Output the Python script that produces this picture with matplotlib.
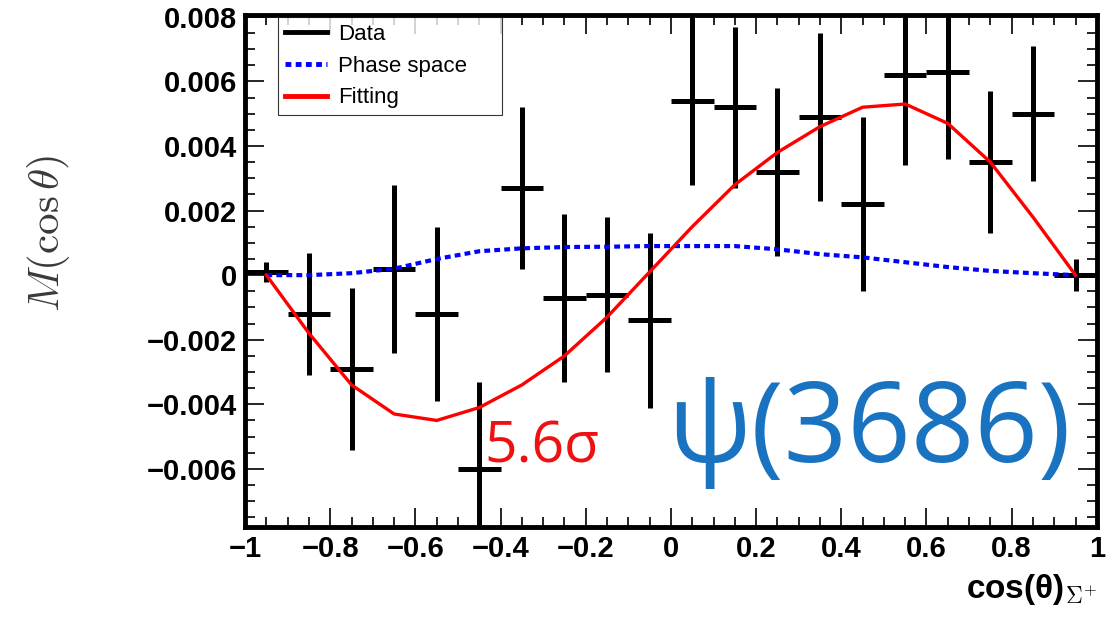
import numpy as np
import matplotlib.pyplot as plt
from matplotlib.lines import Line2D
from matplotlib.ticker import MultipleLocator, FixedLocator, FixedFormatter

plt.rcParams['font.family'] = ['Liberation Sans', 'DejaVu Sans']
plt.rcParams['mathtext.fontset'] = 'cm'

# bin centres of cos(theta)
bin_centres = [-0.95, -0.85, -0.75, -0.65, -0.55, -0.45, -0.35, -0.25, -0.15, -0.05,
               0.05, 0.15, 0.25, 0.35, 0.45, 0.55, 0.65, 0.75, 0.85, 0.95]
bin_half = 0.05

data_y = [0.0001, -0.0012, -0.0029, 0.0002, -0.0012, -0.0060, 0.0027, -0.0007, -0.0006, -0.0014,
          0.0054, 0.0052, 0.0032, 0.0049, 0.0022, 0.0062, 0.0063, 0.0035, 0.0050, 0.0000]
data_err = [0.0003, 0.0019, 0.0025, 0.0026, 0.0027, 0.0027, 0.0025, 0.0026, 0.0024, 0.0027,
            0.0026, 0.0025, 0.0026, 0.0026, 0.0027, 0.0028, 0.0027, 0.0022, 0.0021, 0.0005]

phase_space = [0.0, 0.0, 0.00006, 0.0002, 0.0005, 0.00074, 0.00083, 0.00087, 0.00088, 0.0009,
               0.0009, 0.0009, 0.0008, 0.00065, 0.00055, 0.0004, 0.00025, 0.00013, 0.00006, 0.0]

fitting = [0.0, -0.0018, -0.0034, -0.0043, -0.0045, -0.0041, -0.0034, -0.0025, -0.0013, 0.0001,
           0.0015, 0.0028, 0.0038, 0.0046, 0.0052, 0.0053, 0.0047, 0.0035, 0.0018, 0.0]

x_ticks = [-1, -0.8, -0.6, -0.4, -0.2, 0, 0.2, 0.4, 0.6, 0.8, 1]
x_ticklabels = ['\u22121', '\u22120.8', '\u22120.6', '\u22120.4', '\u22120.2', '0',
                '0.2', '0.4', '0.6', '0.8', '1']
y_ticks = [-0.006, -0.004, -0.002, 0, 0.002, 0.004, 0.006, 0.008]
y_ticklabels = ['\u22120.006', '\u22120.004', '\u22120.002', '0', '0.002', '0.004', '0.006', '0.008']

fig = plt.figure(figsize=(11.09, 6.2), dpi=100)
ax = fig.add_axes([0.221, 0.150, 0.768, 0.826])

ax.errorbar(bin_centres, data_y, yerr=data_err, xerr=bin_half, fmt='none',
            ecolor='black', elinewidth=3.6, capsize=0, zorder=2)
ax.plot(bin_centres, phase_space, color='#0000ff', lw=3, linestyle=(0, (1.4, 1.0)), zorder=3)
ax.plot(bin_centres, fitting, color='#ff0000', lw=2.4, zorder=4)

ax.set_xlim(-1, 1)
ax.set_ylim(-0.0078, 0.00806)

ax.xaxis.set_major_locator(FixedLocator(x_ticks))
ax.xaxis.set_major_formatter(FixedFormatter(x_ticklabels))
ax.xaxis.set_minor_locator(MultipleLocator(0.05))
ax.yaxis.set_major_locator(FixedLocator(y_ticks))
ax.yaxis.set_major_formatter(FixedFormatter(y_ticklabels))
ax.yaxis.set_minor_locator(MultipleLocator(0.0005))

ax.tick_params(which='both', direction='in', top=True, right=True, width=1.2, color='black')
ax.tick_params(which='major', length=14, labelsize=21, pad=6)
ax.tick_params(which='minor', length=7)
for lab in ax.get_xticklabels() + ax.get_yticklabels():
    lab.set_fontweight('bold')
for sp in ax.spines.values():
    sp.set_linewidth(3.5)

ax.set_ylabel(r'$M(\cos\theta)$', fontsize=31, color='#3a3a3a')
ax.yaxis.set_label_coords(-0.203, 0.574)
ax.set_xlabel('cos(\u03b8)$_{\\Sigma^{+}}$', fontsize=24, fontweight='bold', loc='right', labelpad=6)

handles = [Line2D([], [], color='black', lw=3.5),
           Line2D([], [], color='#0000ff', lw=3.5, linestyle=(0, (1.2, 0.9))),
           Line2D([], [], color='#ff0000', lw=3.5)]
leg = ax.legend(handles, ['Data', 'Phase space', 'Fitting'], loc='upper left',
                bbox_to_anchor=(0.039, 0.76, 0.263, 0.235), mode='expand', borderaxespad=0,
                fontsize=16, frameon=True, fancybox=False, handlelength=1.9,
                labelspacing=0.48, borderpad=0.3, handletextpad=0.5)
leg.get_frame().set_edgecolor('black')
leg.get_frame().set_linewidth(0.8)

ax.text(-0.437, -0.0058, '5.6\u03c3', color='#ee1111', fontsize=41,
        family=['Open Sans', 'DejaVu Sans'], va='baseline', ha='left', zorder=5)
ax.text(-0.01, -0.0058, '\u03c8(3686)', color='#1a73c0', fontsize=80,
        family=['Open Sans', 'DejaVu Sans'], va='baseline', ha='left', zorder=5)

fig.savefig('out.png', dpi=100)
